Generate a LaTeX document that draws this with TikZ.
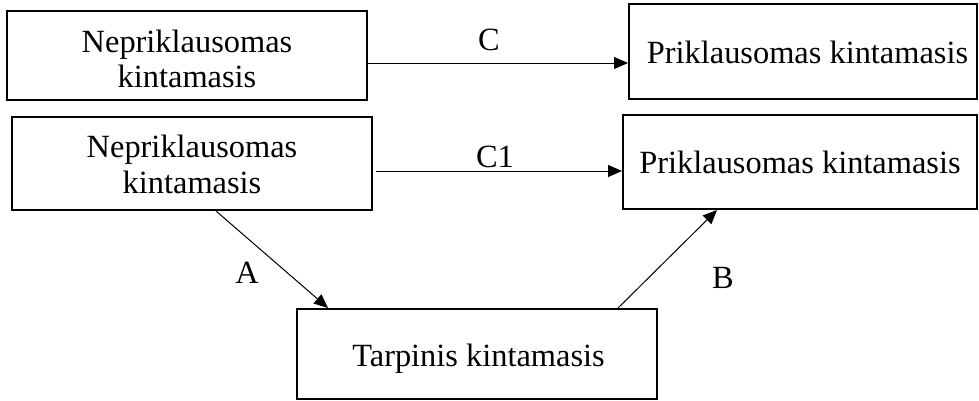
\documentclass[tikz,border=0pt]{standalone}
\usepackage{fontspec}
\setmainfont{Liberation Serif}
\usetikzlibrary{arrows.meta,calc}
\begin{document}
\begin{tikzpicture}[x=1pt,y=-1pt,
  box/.style={draw,line width=2pt,rectangle,inner sep=0pt},
  conn/.style={line width=1pt,-{Triangle[length=14pt,width=12pt]}},
  lbl/.style={font=\fontsize{32.4}{36}\selectfont,inner sep=0pt,anchor=base}]
\useasboundingbox (0,0) rectangle (979,400);
\node[box,minimum width=360pt,minimum height=89pt] (n1) at (187,55.5) {};
\node[box,minimum width=348pt,minimum height=95pt] (p1) at (803,51.5) {};
\node[box,minimum width=360pt,minimum height=93pt] (n2) at (192,163.5) {};
\node[box,minimum width=354pt,minimum height=94pt] (p2) at (800,162) {};
\node[box,minimum width=360pt,minimum height=90pt] (t) at (477,354) {};
\node[lbl] (n1a) at (187,52) {Nepriklausomas};
\node[lbl] (n1b) at (187,87) {kintamasis};
\node[lbl] (n2a) at (192,157) {Nepriklausomas};
\node[lbl] (n2b) at (192,193) {kintamasis};
\node[lbl] (p1t) at (807.5,63) {Priklausomas kintamasis};
\node[lbl] (p2t) at (800,173) {Priklausomas kintamasis};
\node[lbl] (tt) at (478.5,366) {Tarpinis kintamasis};
\coordinate (cy) at (0,63);
\coordinate (c1s) at (376,171);
\coordinate (as) at (216,0);
\coordinate (ae) at (328,0);
\coordinate (bs) at (618,0);
\coordinate (be) at (717,0);
\draw[conn] (n1.east |- cy) -- (p1.west |- cy);
\draw[conn] (c1s) -- (p2.west |- c1s);
\draw[conn] (as |- n2.south) -- (ae |- t.north);
\draw[conn] (bs |- t.north) -- (be |- p2.south);
\node[lbl] (lc) at (489,50) {C};
\node[lbl] (lc1) at (495,167) {C1};
\node[lbl] (la) at (247,283) {A};
\node[lbl] (lb) at (723,288) {B};
\end{tikzpicture}
\end{document}
